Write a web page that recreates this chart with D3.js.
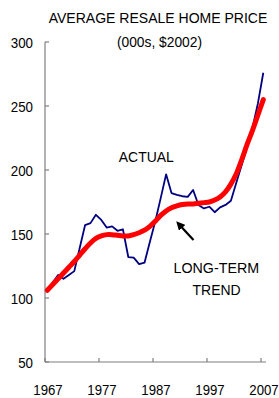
<!DOCTYPE html>
<html><head><meta charset="utf-8">
<script src="https://cdn.jsdelivr.net/npm/d3@7/dist/d3.min.js"></script>
<style>html,body{margin:0;padding:0;background:#fff;}svg{display:block;}</style>
</head><body>
<script>
const years = d3.range(1967, 2008);
const actual = [105,112,118,115,118,121,139,157,158.5,165,161,155,156,152.5,153.7,132,131.5,126.5,127.6,144,160,178,196.6,182,180.5,179.5,179,184.4,172.7,170,171.3,167,170.8,172.7,176,190,204,218,233,252,276];
const trend = [106,110.5,115,119.5,124,128.5,133.5,138.5,143,146.5,148.5,149.5,149.5,149,148.5,148.5,149.5,151,153,156,160,164.5,168,170.5,172,173,173.5,173.5,174,174.5,175,176.5,179,183,189,197,208,220,231,243,255];
const yTicks = [50,100,150,200,250,300];
const xTicks = [1967,1977,1987,1997,2007];

const W = 279, H = 398;
const svg = d3.select("body").append("svg").attr("width", W).attr("height", H);
const x = d3.scaleLinear().domain([1967, 2007]).range([45, 261]);
const y = d3.scaleLinear().domain([50, 300]).range([362, 42]);
const font = "Liberation Sans, Arial, sans-serif";

function txt(str, tx, ty, size, sx, anchor) {
  svg.append("text").attr("transform", `translate(${tx},${ty}) scale(${sx},1)`)
    .attr("text-anchor", anchor).attr("font-family", font).attr("font-size", size)
    .attr("fill", "#000").text(str);
}

// axes
const axisColor = "#7f7f7f";
svg.append("line").attr("x1", x(1967)).attr("x2", x(1967)).attr("y1", y(300)).attr("y2", y(50))
  .attr("stroke", axisColor).attr("stroke-width", 1.2);
svg.append("line").attr("x1", x(1967)).attr("x2", x(2007) + 5).attr("y1", y(50)).attr("y2", y(50))
  .attr("stroke", axisColor).attr("stroke-width", 1.2);
yTicks.forEach(t => {
  svg.append("line").attr("x1", x(1967)).attr("x2", x(1967) + 4).attr("y1", y(t)).attr("y2", y(t))
    .attr("stroke", axisColor).attr("stroke-width", 1.2);
  txt(t, 33, y(t) + 5.5, 15, 0.89, "end");
});
xTicks.forEach(t => {
  svg.append("line").attr("x1", x(t)).attr("x2", x(t)).attr("y1", y(50)).attr("y2", y(50) - 4)
    .attr("stroke", axisColor).attr("stroke-width", 1.2);
  txt(t, x(t) + 3, 395, 15, 0.88, "middle");
});

// lines
const g = svg.append("g").attr("transform", "translate(2.3,0)");
const lineT = d3.line().x((d, i) => x(years[i])).y(d => y(d)).curve(d3.curveCatmullRom);
const lineA = d3.line().x((d, i) => x(years[i])).y(d => y(d));
g.append("path").attr("d", lineA(actual)).attr("fill", "none").attr("stroke", "#000080")
  .attr("stroke-width", 1.8).attr("stroke-linejoin", "round");
g.append("path").attr("d", lineT(trend)).attr("fill", "none").attr("stroke", "#ff0000")
  .attr("stroke-width", 5).attr("stroke-linecap", "round");

// titles and labels
txt("AVERAGE RESALE HOME PRICE", 158, 23, 15, 0.935, "middle");
txt("(000s, $2002)", 159.5, 46.5, 15, 0.92, "middle");
txt("ACTUAL", 146.3, 161.5, 15.5, 0.9, "middle");
txt("LONG-TERM", 216.3, 272.5, 15.5, 0.92, "middle");
txt("TREND", 216.6, 295, 15.5, 0.9, "middle");

// arrow
svg.append("defs").append("marker").attr("id", "ah").attr("viewBox", "0 0 10 10")
  .attr("refX", 2).attr("refY", 5).attr("markerWidth", 4).attr("markerHeight", 4)
  .attr("orient", "auto").append("path").attr("d", "M0,0L10,5L0,10Z").attr("fill", "#000");
svg.append("line").attr("x1", 193.5).attr("y1", 240).attr("x2", 181).attr("y2", 226.5)
  .attr("stroke", "#000").attr("stroke-width", 2.2).attr("marker-end", "url(#ah)");
</script>
</body></html>
